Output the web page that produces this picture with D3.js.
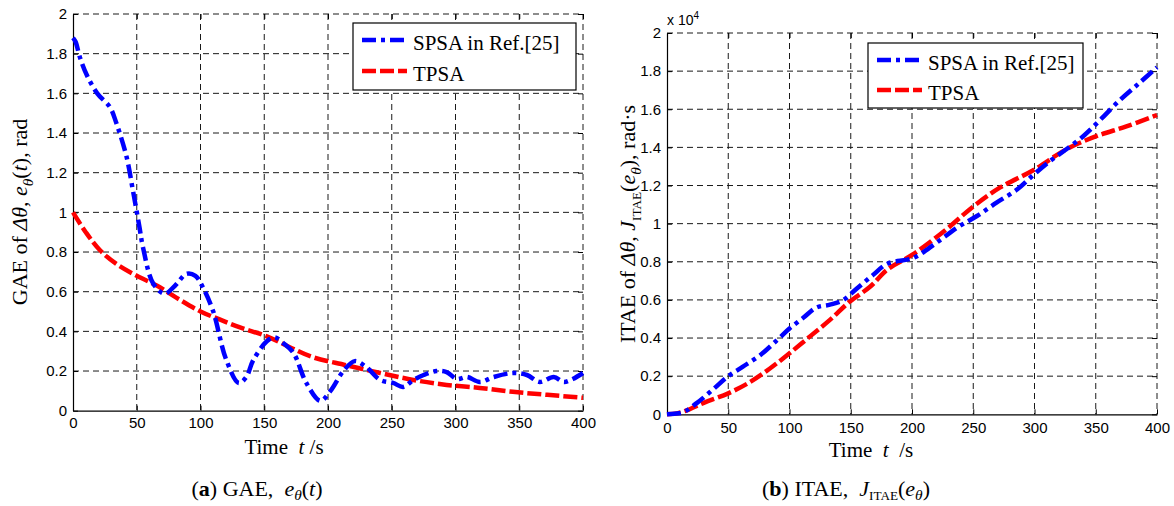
<!DOCTYPE html>
<html>
<head>
<meta charset="utf-8">
<script src="https://cdn.jsdelivr.net/npm/d3@7"></script>
<style>
body { margin: 0; background: #fff; }
text { white-space: pre; }
</style>
</head>
<body>
<svg id="chart" width="1174" height="506"></svg>
<script>
// tick values shared by both panels
const xTicks = [0, 50, 100, 150, 200, 250, 300, 350, 400]
const yTicks = [0, 0.2, 0.4, 0.6, 0.8, 1, 1.2, 1.4, 1.6, 1.8, 2]
const yTickLabels = ['0', '0.2', '0.4', '0.6', '0.8', '1', '1.2', '1.4', '1.6', '1.8', '2']

// (a) GAE, SPSA in Ref.[25]
const gaeSpsaT = [0, 2, 5.5, 11, 19, 29, 34, 42, 47, 52, 55, 63, 72, 80, 89, 96, 102, 110, 120, 130, 136, 141, 152, 158, 165, 173, 183, 194, 202, 212, 221, 230, 241, 251, 259, 267, 275, 285, 293, 301, 309, 319, 330, 345, 356, 366, 377, 385, 392, 400]
const gaeSpsaV = [1.88, 1.86, 1.78, 1.69, 1.60, 1.53, 1.45, 1.28, 1.11, 0.93, 0.82, 0.64, 0.59, 0.63, 0.69, 0.68, 0.62, 0.50, 0.26, 0.14, 0.17, 0.25, 0.35, 0.37, 0.34, 0.29, 0.14, 0.05, 0.10, 0.20, 0.25, 0.22, 0.155, 0.14, 0.12, 0.155, 0.18, 0.20, 0.195, 0.16, 0.17, 0.145, 0.17, 0.19, 0.18, 0.145, 0.17, 0.145, 0.16, 0.19]
// (a) GAE, TPSA
const gaeTpsaT = [0, 10, 21, 34, 50, 66, 81, 100, 115, 131, 152, 170, 188, 214, 241, 267, 293, 319, 345, 372, 400]
const gaeTpsaV = [1.0, 0.90, 0.81, 0.74, 0.68, 0.63, 0.57, 0.50, 0.46, 0.42, 0.375, 0.32, 0.27, 0.23, 0.19, 0.155, 0.13, 0.115, 0.095, 0.08, 0.065]

// (b) ITAE (x 10^4), SPSA in Ref.[25]
const itaeSpsaT = [0, 6, 13, 24.5, 37.5, 50, 62, 76, 90, 100, 111, 122, 133, 144, 155, 168, 180, 201, 220, 237, 253, 269, 286, 299, 313, 326, 340, 353, 370, 386, 400]
const itaeSpsaV = [0, 0.003, 0.01, 0.06, 0.13, 0.20, 0.25, 0.31, 0.39, 0.45, 0.505, 0.56, 0.575, 0.60, 0.66, 0.73, 0.79, 0.82, 0.90, 0.98, 1.04, 1.11, 1.18, 1.255, 1.33, 1.39, 1.46, 1.54, 1.65, 1.74, 1.82]
// (b) ITAE (x 10^4), TPSA
const itaeTpsaT = [0, 8, 16, 30, 50, 68, 84, 100, 117, 133, 149, 166, 180, 201, 228, 250, 272, 299, 326, 351, 375, 400]
const itaeTpsaV = [0, 0.005, 0.02, 0.06, 0.11, 0.17, 0.24, 0.32, 0.41, 0.495, 0.59, 0.67, 0.76, 0.84, 0.97, 1.09, 1.19, 1.28, 1.39, 1.46, 1.51, 1.57]

const legendNames = ['SPSA in Ref.[25]', 'TPSA']

const svg = d3.select('#chart')
const serif = '"Liberation Serif", "Times New Roman", serif'
const sans = '"Liberation Sans", Arial, sans-serif'
const blue = '#0000ff'
const red = '#ff0000'
const blueDash = '14,5,4,5'
const redDash = '14,4'

// text with italic / bold / subscript pieces
function richText(parent, parts, x, y, size, anchor, rotate, subK) {
	subK = subK || 0.28
	const t = parent.append('text')
		.attr('font-family', serif)
		.attr('font-size', size)
		.attr('text-anchor', anchor)
		.attr('fill', '#000')
	if (rotate) t.attr('transform', `translate(${x},${y}) rotate(-90)`)
	else t.attr('x', x).attr('y', y)
	let shift = 0
	parts.forEach(p => {
		const target = p.sub ? size * subK : 0
		const s = t.append('tspan').text(p.t).attr('dy', target - shift)
		shift = target
		if (p.i) s.attr('font-style', 'italic')
		if (p.b) s.attr('font-weight', 'bold')
		if (p.sub) s.attr('font-size', size * (p.small || 0.7))
	})
	return t
}

function panel(cfg) {
	const x = d3.scaleLinear().domain([0, 400]).range([cfg.left, cfg.right])
	const y = d3.scaleLinear().domain([0, 2]).range([cfg.bottom, cfg.top])
	const g = svg.append('g')

	// dashed grid (also makes the top and right border)
	g.selectAll('.vgrid').data(xTicks.slice(1)).join('line')
		.attr('x1', d => x(d)).attr('x2', d => x(d))
		.attr('y1', cfg.top).attr('y2', cfg.bottom)
		.attr('stroke', '#1a1a1a').attr('stroke-width', 1)
		.attr('stroke-dasharray', '6,4')
	g.selectAll('.hgrid').data(yTicks.slice(1)).join('line')
		.attr('x1', cfg.left).attr('x2', cfg.right)
		.attr('y1', d => y(d)).attr('y2', d => y(d))
		.attr('stroke', '#1a1a1a').attr('stroke-width', 1)
		.attr('stroke-dasharray', '6,4')

	// axes, ticks pointing inwards
	const ax = g.append('g')
		.attr('transform', `translate(0,${cfg.bottom})`)
		.call(d3.axisBottom(x).tickValues(xTicks).tickSizeInner(-5).tickSizeOuter(0).tickPadding(cfg.xPad))
	const ay = g.append('g')
		.attr('transform', `translate(${cfg.left},0)`)
		.call(d3.axisLeft(y).tickValues(yTicks).tickFormat((d, i) => yTickLabels[i]).tickSizeInner(-5).tickSizeOuter(0).tickPadding(cfg.yPad))
	g.append('g')
		.attr('transform', `translate(0,${cfg.top})`)
		.call(d3.axisTop(x).tickValues(xTicks).tickFormat('').tickSizeInner(-5).tickSizeOuter(0))
		.select('.domain').remove()
	g.append('g')
		.attr('transform', `translate(${cfg.right},0)`)
		.call(d3.axisRight(y).tickValues(yTicks).tickFormat('').tickSizeInner(-5).tickSizeOuter(0))
		.select('.domain').remove()
	g.selectAll('.tick line').attr('stroke', '#000')
	;[ax, ay].forEach(a => {
		a.select('.domain').attr('stroke', '#000').attr('stroke-width', 1.2)
		a.selectAll('text').attr('font-family', sans).attr('font-size', 15).attr('fill', '#000')
	})

	// curves
	const line = d3.line()
		.x(d => x(d[0]))
		.y(d => y(d[1]))
		.curve(d3.curveCatmullRom.alpha(0.5))
	g.append('path')
		.datum(d3.zip(cfg.tpsaT, cfg.tpsaV))
		.attr('fill', 'none').attr('stroke', red).attr('stroke-width', 4.5)
		.attr('stroke-dasharray', redDash)
		.attr('d', line)
	g.append('path')
		.datum(d3.zip(cfg.spsaT, cfg.spsaV))
		.attr('fill', 'none').attr('stroke', blue).attr('stroke-width', 4.5)
		.attr('stroke-dasharray', blueDash)
		.attr('d', line)

	// legend
	const L = cfg.legend
	g.append('rect')
		.attr('x', L.x).attr('y', L.y).attr('width', L.w).attr('height', L.h)
		.attr('fill', '#fff').attr('stroke', '#000').attr('stroke-width', 1.2)
	const items = [[blue, blueDash], [red, redDash]]
	items.forEach((it, i) => {
		const ly = L.y + L.rows[i]
		g.append('line')
			.attr('x1', L.x + 9).attr('x2', L.x + 54)
			.attr('y1', ly).attr('y2', ly)
			.attr('stroke', it[0]).attr('stroke-width', 4.5)
			.attr('stroke-dasharray', it[1])
		g.append('text')
			.attr('x', L.x + 60).attr('y', ly + 10)
			.attr('font-family', serif).attr('font-size', 21)
			.text(legendNames[i])
	})
	return g
}

const left = panel({
	left: 73, right: 583, top: 14, bottom: 410.7, xPad: 7, yPad: 6,
	spsaT: gaeSpsaT, spsaV: gaeSpsaV, tpsaT: gaeTpsaT, tpsaV: gaeTpsaV,
	legend: { x: 353, y: 23, w: 223, h: 67, rows: [17, 48] }
})
const right = panel({
	left: 667, right: 1157, top: 33, bottom: 414.3, xPad: 8, yPad: 6,
	spsaT: itaeSpsaT, spsaV: itaeSpsaV, tpsaT: itaeTpsaT, tpsaV: itaeTpsaV,
	legend: { x: 868, y: 43, w: 215, h: 65, rows: [17, 47] }
})

// exponent label of panel (b)
svg.append('text')
	.attr('x', 667).attr('y', 25)
	.attr('font-family', sans).attr('font-size', 14)
	.text('x 10')
	.append('tspan').attr('dy', -6).attr('font-size', 10).text('4')

// y axis titles
richText(svg, [
	{ t: 'GAE of ' }, { t: 'Δθ', i: true }, { t: ', ' }, { t: 'e', i: true },
	{ t: 'θ', i: true, sub: true }, { t: '(' }, { t: 't', i: true }, { t: '), rad' }
], 27, 212, 22, 'middle', true)
richText(svg, [
	{ t: 'ITAE of ' }, { t: 'Δθ', i: true }, { t: ', ' }, { t: 'J', i: true },
	{ t: 'ITAE', sub: true, small: 0.6 }, { t: '(' }, { t: 'e', i: true },
	{ t: 'θ', i: true, sub: true }, { t: '), rad·s' }
], 635, 224, 22, 'middle', true)

// x axis titles
richText(svg, [{ t: 'Time  ' }, { t: 't', i: true }, { t: ' /s' }], 284, 454, 21, 'middle', false)
richText(svg, [{ t: 'Time  ' }, { t: 't', i: true }, { t: '  /s' }], 871, 457, 21, 'middle', false)

// captions
richText(svg, [
	{ t: '(' }, { t: 'a', b: true }, { t: ') GAE,  ' }, { t: 'e', i: true },
	{ t: 'θ', i: true, sub: true }, { t: '(' }, { t: 't', i: true }, { t: ')' }
], 257, 496, 22, 'middle', false, 0.18)
richText(svg, [
	{ t: '(' }, { t: 'b', b: true }, { t: ') ITAE,  ' }, { t: 'J', i: true },
	{ t: 'ITAE', sub: true, small: 0.6 }, { t: '(' }, { t: 'e', i: true },
	{ t: 'θ', i: true, sub: true }, { t: ')' }
], 846, 496, 22, 'middle', false, 0.18)
</script>
</body>
</html>
